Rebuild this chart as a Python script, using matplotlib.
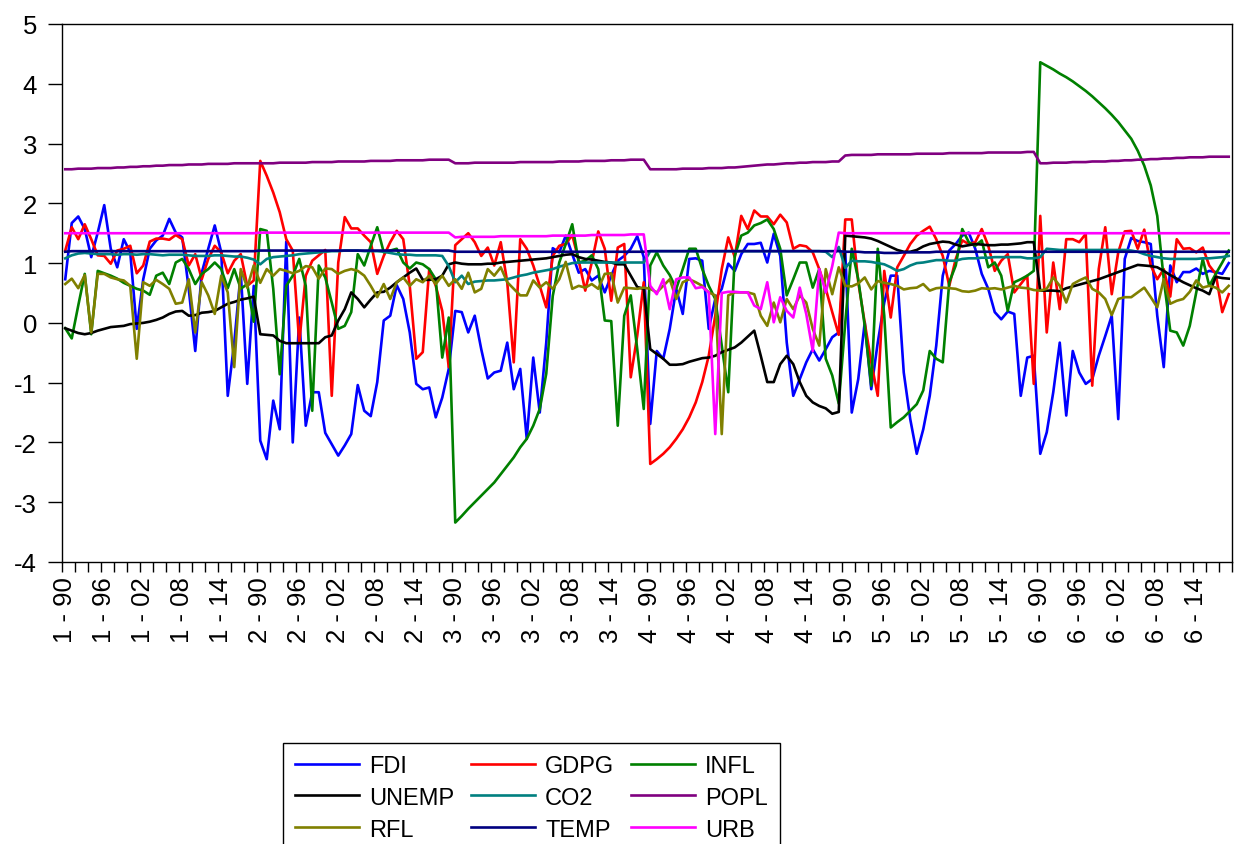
import numpy as np
import matplotlib.pyplot as plt

plt.rcParams['font.family'] = ['Liberation Sans', 'DejaVu Sans']
plt.rcParams['axes.unicode_minus'] = False

# panel data: 6 cross sections, 1990-2019
panels = ['1', '2', '3', '4', '5', '6']
years = ['90', '96', '02', '08', '14']

fdi = [0.73, 1.67, 1.78, 1.57, 1.10, 1.51, 1.97, 1.24, 0.93, 1.40, 1.18, -0.10, 0.73, 1.24, 1.38, 1.46, 1.74, 1.51, 1.43, 0.57, -0.47, 0.84, 1.24, 1.63, 1.18, -1.22, -0.33, 0.84, -1.02, 0.62,
       -1.97, -2.28, -1.30, -1.78, 1.36, -2.00, 0.09, -1.72, -1.16, -1.16, -1.84, -2.03, -2.22, -2.05, -1.86, -1.04, -1.47, -1.56, -0.99, 0.04, 0.12, 0.63, 0.40, -0.16, -1.02, -1.11, -1.08, -1.58, -1.25, -0.77,
       0.20, 0.18, -0.16, 0.12, -0.44, -0.93, -0.83, -0.80, -0.33, -1.11, -0.77, -1.94, -0.58, -1.50, -0.33, 1.25, 1.18, 1.46, 1.15, 0.84, 0.90, 0.71, 0.79, 0.51, 0.79, 1.04, 1.12, 1.24, 1.45, 1.10,
       -1.69, -0.47, -0.60, -0.10, 0.57, 0.15, 1.07, 1.08, 1.04, -0.10, 0.40, 0.57, 0.99, 0.87, 1.15, 1.32, 1.32, 1.34, 1.01, 1.49, 1.12, -0.33, -1.22, -0.94, -0.66, -0.44, -0.63, -0.44, -0.24, -0.16,
       1.20, -1.50, -0.94, 0.01, -1.11, -0.33, 0.34, 0.79, 0.79, -0.83, -1.61, -2.19, -1.78, -1.22, -0.38, 0.79, 1.21, 1.32, 1.46, 1.51, 1.24, 0.82, 0.57, 0.18, 0.06, 0.19, 0.15, -1.22, -0.58, -0.55,
       -2.19, -1.83, -1.16, -0.33, -1.55, -0.47, -0.83, -1.02, -0.94, -0.55, -0.22, 0.12, -1.61, 1.07, 1.42, 1.37, 1.35, 1.32, 0.12, -0.74, 0.96, 0.68, 0.85, 0.85, 0.91, 0.82, 0.87, 0.85, 0.82, 1.00]

gdpg = [1.21, 1.60, 1.40, 1.65, 1.40, 1.13, 1.12, 0.99, 1.21, 1.24, 1.29, 0.83, 0.96, 1.36, 1.41, 1.41, 1.39, 1.47, 1.40, 0.96, 1.15, 0.73, 1.07, 1.29, 1.18, 0.83, 1.04, 1.15, 0.62, 0.71,
        2.71, 2.46, 2.18, 1.85, 1.40, 1.21, -0.33, 0.79, 1.04, 1.13, 1.22, -1.22, 1.01, 1.77, 1.58, 1.58, 1.46, 1.35, 0.82, 1.12, 1.35, 1.54, 1.40, 0.62, -0.60, -0.49, 0.90, 0.62, 0.20, -0.74,
        1.30, 1.40, 1.50, 1.35, 1.12, 1.26, 0.96, 1.35, 0.68, -0.66, 1.40, 1.24, 0.96, 0.62, 0.26, 1.12, 1.29, 1.32, 1.47, 1.04, 0.54, 1.01, 1.53, 1.24, 0.37, 1.26, 1.32, -0.91, -0.21, 0.68,
        -2.36, -2.28, -2.19, -2.08, -1.94, -1.78, -1.58, -1.33, -0.99, -0.55, 0.12, 0.90, 1.43, 1.10, 1.79, 1.57, 1.88, 1.78, 1.78, 1.65, 1.81, 1.68, 1.24, 1.30, 1.28, 1.18, 0.90, 0.57, 0.18, -0.20,
        1.73, 1.73, 0.68, 0.00, -0.66, -1.22, 0.87, 0.09, 0.93, 1.12, 1.32, 1.46, 1.54, 1.61, 1.40, 1.12, 0.62, 1.07, 1.38, 1.32, 1.35, 1.57, 1.29, 0.87, 1.04, 1.15, 0.51, 0.65, 0.79, -1.02,
        1.79, -0.16, 1.01, 0.23, 1.40, 1.40, 1.35, 1.49, -1.05, 0.90, 1.60, 0.48, 1.18, 1.53, 1.54, 1.24, 1.56, 0.96, 0.73, 0.90, 0.44, 1.40, 1.24, 1.25, 1.18, 1.26, 0.96, 0.82, 0.18, 0.48]

infl = [-0.09, -0.26, 0.29, 0.82, -0.19, 0.87, 0.83, 0.79, 0.74, 0.67, 0.62, 0.57, 0.54, 0.47, 0.79, 0.84, 0.65, 1.01, 1.07, 0.90, 0.65, 0.82, 0.90, 1.01, 0.90, 0.58, 0.90, 0.57, 0.65, 0.02,
        1.57, 1.54, 0.57, -0.86, 0.62, 0.79, 1.07, 0.62, -1.47, 0.96, 0.76, 0.34, -0.10, -0.05, 0.18, 1.15, 0.96, 1.29, 1.60, 1.18, 1.21, 1.24, 1.01, 0.91, 1.01, 0.98, 0.90, 0.73, -0.58, 0.09,
        -3.34, -3.23, -3.11, -3.00, -2.89, -2.78, -2.67, -2.53, -2.39, -2.25, -2.08, -1.94, -1.72, -1.44, -0.85, 0.45, 1.01, 1.32, 1.65, 1.01, 1.04, 1.13, 0.90, 0.04, 0.03, -1.72, 0.12, 0.46, -0.44, -1.44,
        0.96, 1.18, 0.96, 0.80, 0.57, 0.90, 1.24, 1.24, 0.90, 0.62, 0.40, -0.38, -1.16, 1.12, 1.46, 1.51, 1.63, 1.67, 1.73, 1.57, 1.24, 0.46, 0.73, 1.01, 1.01, 0.59, 0.90, -0.60, -0.88, -1.35,
        0.00, 1.24, 0.73, -0.05, -1.05, 1.24, 0.12, -1.75, -1.66, -1.58, -1.47, -1.36, -1.13, -0.47, -0.60, -0.66, 0.68, 0.96, 1.57, 1.35, 1.29, 1.38, 0.93, 1.01, 0.79, 0.20, 0.68, 0.73, 0.79, 0.87,
        4.36, 4.30, 4.24, 4.17, 4.11, 4.04, 3.96, 3.88, 3.79, 3.69, 3.59, 3.48, 3.36, 3.22, 3.08, 2.88, 2.63, 2.30, 1.79, 0.73, -0.13, -0.16, -0.38, -0.05, 0.51, 1.07, 0.62, 0.82, 1.01, 1.21]

unemp = [-0.09, -0.13, -0.17, -0.19, -0.17, -0.13, -0.10, -0.07, -0.06, -0.05, -0.02, -0.01, 0.00, 0.02, 0.05, 0.09, 0.15, 0.19, 0.20, 0.12, 0.13, 0.17, 0.18, 0.20, 0.26, 0.32, 0.35, 0.39, 0.41, 0.44,
         -0.19, -0.20, -0.21, -0.30, -0.34, -0.34, -0.34, -0.34, -0.34, -0.34, -0.24, -0.21, 0.04, 0.23, 0.51, 0.40, 0.26, 0.39, 0.51, 0.52, 0.59, 0.68, 0.76, 0.84, 0.91, 0.72, 0.72, 0.73, 0.79, 0.98,
         1.01, 0.99, 0.98, 0.98, 0.98, 0.99, 0.99, 1.01, 1.02, 1.03, 1.04, 1.05, 1.06, 1.07, 1.08, 1.10, 1.12, 1.14, 1.15, 1.10, 1.07, 1.06, 1.04, 1.02, 1.01, 0.98, 0.98, 0.79, 0.60, 0.57,
         -0.44, -0.52, -0.60, -0.70, -0.70, -0.69, -0.65, -0.62, -0.59, -0.58, -0.55, -0.49, -0.45, -0.41, -0.33, -0.23, -0.13, -0.55, -0.99, -0.99, -0.69, -0.55, -0.69, -0.99, -1.22, -1.33, -1.39, -1.43, -1.52, -1.49,
         1.46, 1.45, 1.44, 1.43, 1.41, 1.37, 1.32, 1.27, 1.22, 1.19, 1.19, 1.22, 1.28, 1.32, 1.34, 1.36, 1.35, 1.31, 1.28, 1.30, 1.32, 1.31, 1.30, 1.30, 1.31, 1.31, 1.32, 1.33, 1.35, 1.35,
         0.54, 0.54, 0.54, 0.53, 0.58, 0.61, 0.64, 0.67, 0.70, 0.73, 0.77, 0.81, 0.85, 0.89, 0.93, 0.97, 0.96, 0.95, 0.93, 0.87, 0.80, 0.74, 0.68, 0.63, 0.58, 0.54, 0.48, 0.77, 0.75, 0.74]

co2 = [1.08, 1.13, 1.16, 1.17, 1.16, 1.15, 1.15, 1.15, 1.14, 1.15, 1.15, 1.14, 1.15, 1.15, 1.14, 1.13, 1.14, 1.14, 1.14, 1.13, 1.12, 1.12, 1.12, 1.13, 1.13, 1.12, 1.11, 1.11, 1.09, 1.06,
       0.98, 1.07, 1.10, 1.11, 1.12, 1.13, 1.15, 1.16, 1.17, 1.18, 1.19, 1.20, 1.20, 1.21, 1.21, 1.21, 1.20, 1.20, 1.20, 1.19, 1.17, 1.15, 1.14, 1.14, 1.13, 1.13, 1.13, 1.13, 1.12, 0.95,
       0.68, 0.79, 0.65, 0.69, 0.70, 0.71, 0.71, 0.72, 0.73, 0.76, 0.79, 0.81, 0.84, 0.86, 0.88, 0.90, 0.94, 0.97, 1.00, 1.01, 1.01, 1.01, 1.01, 1.01, 1.01, 1.01, 1.01, 1.01, 1.01, 1.01,
       1.20, 1.20, 1.20, 1.20, 1.20, 1.20, 1.20, 1.20, 1.20, 1.20, 1.20, 1.20, 1.20, 1.20, 1.20, 1.20, 1.20, 1.20, 1.20, 1.20, 1.20, 1.20, 1.20, 1.20, 1.20, 1.20, 1.20, 1.19, 1.10, 1.27,
       0.92, 1.04, 1.03, 1.03, 1.02, 1.00, 0.98, 0.93, 0.87, 0.90, 0.96, 1.00, 1.01, 1.03, 1.05, 1.05, 1.04, 1.04, 1.07, 1.08, 1.08, 1.09, 1.09, 1.10, 1.10, 1.10, 1.10, 1.10, 1.08, 1.08,
       1.10, 1.24, 1.23, 1.22, 1.22, 1.22, 1.22, 1.22, 1.22, 1.22, 1.22, 1.22, 1.22, 1.22, 1.21, 1.19, 1.15, 1.12, 1.10, 1.08, 1.07, 1.07, 1.07, 1.07, 1.07, 1.08, 1.08, 1.09, 1.10, 1.12]

popl = [2.57, 2.57, 2.58, 2.58, 2.58, 2.59, 2.59, 2.59, 2.60, 2.60, 2.61, 2.61, 2.62, 2.62, 2.63, 2.63, 2.64, 2.64, 2.64, 2.65, 2.65, 2.65, 2.66, 2.66, 2.66, 2.66, 2.67, 2.67, 2.67, 2.67,
        2.67, 2.67, 2.67, 2.68, 2.68, 2.68, 2.68, 2.68, 2.69, 2.69, 2.69, 2.69, 2.70, 2.70, 2.70, 2.70, 2.70, 2.71, 2.71, 2.71, 2.71, 2.72, 2.72, 2.72, 2.72, 2.72, 2.73, 2.73, 2.73, 2.73,
        2.67, 2.67, 2.67, 2.68, 2.68, 2.68, 2.68, 2.68, 2.68, 2.68, 2.69, 2.69, 2.69, 2.69, 2.69, 2.69, 2.70, 2.70, 2.70, 2.70, 2.71, 2.71, 2.71, 2.71, 2.72, 2.72, 2.72, 2.73, 2.73, 2.73,
        2.57, 2.57, 2.57, 2.57, 2.57, 2.58, 2.58, 2.58, 2.58, 2.59, 2.59, 2.59, 2.60, 2.60, 2.61, 2.62, 2.63, 2.64, 2.65, 2.65, 2.66, 2.67, 2.67, 2.68, 2.68, 2.69, 2.69, 2.69, 2.70, 2.70,
        2.80, 2.81, 2.81, 2.81, 2.81, 2.82, 2.82, 2.82, 2.82, 2.82, 2.82, 2.83, 2.83, 2.83, 2.83, 2.83, 2.84, 2.84, 2.84, 2.84, 2.84, 2.84, 2.85, 2.85, 2.85, 2.85, 2.85, 2.85, 2.86, 2.86,
        2.67, 2.67, 2.68, 2.68, 2.68, 2.69, 2.69, 2.69, 2.70, 2.70, 2.70, 2.71, 2.71, 2.72, 2.72, 2.73, 2.73, 2.74, 2.74, 2.75, 2.75, 2.76, 2.76, 2.77, 2.77, 2.77, 2.78, 2.78, 2.78, 2.78]

rfl = [0.65, 0.74, 0.58, 0.80, -0.16, 0.82, 0.82, 0.76, 0.73, 0.71, 0.62, -0.60, 0.68, 0.62, 0.72, 0.65, 0.57, 0.32, 0.34, 0.73, -0.16, 0.68, 0.46, 0.15, 0.79, 0.51, -0.74, 0.90, 0.59, 0.96,
       0.67, 0.90, 0.79, 0.90, 0.87, 0.83, 0.87, 0.95, 0.93, 0.74, 0.91, 0.90, 0.82, 0.87, 0.90, 0.87, 0.79, 0.62, 0.43, 0.65, 0.40, 0.68, 0.76, 0.62, 0.73, 0.68, 0.79, 0.65, 0.79, 0.62,
       0.73, 0.57, 0.84, 0.51, 0.57, 0.90, 0.79, 0.93, 0.68, 0.57, 0.46, 0.46, 0.71, 0.59, 0.68, 0.57, 0.73, 1.02, 0.57, 0.62, 0.59, 0.65, 0.57, 0.82, 0.83, 0.34, 0.59, 0.58, 0.57, 0.59,
       0.57, 0.51, 0.62, 0.73, 0.40, 0.68, 0.73, 0.68, 0.62, 0.51, 0.46, -1.86, 0.46, 0.51, 0.51, 0.51, 0.48, 0.12, -0.05, 0.34, 0.01, 0.40, 0.23, 0.46, 0.34, -0.10, -0.38, 0.90, 0.48, 0.93,
       0.62, 0.61, 0.66, 0.76, 0.56, 0.70, 0.67, 0.65, 0.62, 0.56, 0.58, 0.59, 0.65, 0.54, 0.58, 0.59, 0.58, 0.57, 0.53, 0.52, 0.54, 0.58, 0.57, 0.58, 0.56, 0.59, 0.62, 0.59, 0.58, 0.55,
       0.54, 0.57, 0.76, 0.62, 0.34, 0.65, 0.71, 0.76, 0.57, 0.51, 0.40, 0.13, 0.40, 0.43, 0.43, 0.51, 0.59, 0.43, 0.26, 0.73, 0.32, 0.37, 0.40, 0.52, 0.71, 0.59, 0.62, 0.59, 0.51, 0.62]

temp = [1.19, 1.20, 1.20, 1.20, 1.20, 1.20, 1.20, 1.20, 1.20, 1.20, 1.20, 1.20, 1.20, 1.20, 1.20, 1.20, 1.20, 1.20, 1.20, 1.20, 1.20, 1.20, 1.20, 1.20, 1.20, 1.20, 1.20, 1.20, 1.20, 1.20,
        1.21, 1.21, 1.21, 1.21, 1.21, 1.21, 1.21, 1.21, 1.21, 1.21, 1.21, 1.21, 1.21, 1.21, 1.21, 1.21, 1.21, 1.21, 1.21, 1.21, 1.21, 1.21, 1.21, 1.21, 1.21, 1.21, 1.21, 1.21, 1.21, 1.21,
        1.19, 1.19, 1.19, 1.19, 1.19, 1.19, 1.19, 1.19, 1.19, 1.19, 1.19, 1.19, 1.19, 1.19, 1.19, 1.19, 1.19, 1.19, 1.19, 1.19, 1.19, 1.19, 1.19, 1.19, 1.19, 1.19, 1.19, 1.19, 1.19, 1.19,
        1.20, 1.20, 1.20, 1.20, 1.20, 1.20, 1.20, 1.20, 1.20, 1.20, 1.20, 1.20, 1.20, 1.20, 1.20, 1.20, 1.20, 1.20, 1.20, 1.20, 1.20, 1.20, 1.20, 1.20, 1.20, 1.20, 1.20, 1.20, 1.20, 1.20,
        1.19, 1.19, 1.19, 1.18, 1.18, 1.18, 1.17, 1.17, 1.17, 1.18, 1.18, 1.18, 1.18, 1.18, 1.19, 1.19, 1.19, 1.19, 1.19, 1.19, 1.19, 1.19, 1.19, 1.19, 1.19, 1.19, 1.19, 1.19, 1.19, 1.19,
        1.19, 1.19, 1.19, 1.19, 1.19, 1.19, 1.19, 1.19, 1.19, 1.19, 1.19, 1.19, 1.19, 1.19, 1.19, 1.19, 1.19, 1.19, 1.19, 1.19, 1.19, 1.19, 1.19, 1.19, 1.19, 1.19, 1.19, 1.19, 1.19, 1.19]

urb = [1.50, 1.50, 1.50, 1.50, 1.50, 1.50, 1.50, 1.50, 1.50, 1.50, 1.50, 1.50, 1.50, 1.50, 1.50, 1.50, 1.50, 1.50, 1.50, 1.50, 1.50, 1.50, 1.50, 1.50, 1.50, 1.50, 1.50, 1.50, 1.50, 1.50,
       1.51, 1.51, 1.51, 1.51, 1.51, 1.51, 1.51, 1.51, 1.51, 1.51, 1.51, 1.51, 1.51, 1.51, 1.51, 1.51, 1.51, 1.51, 1.51, 1.51, 1.51, 1.51, 1.51, 1.51, 1.51, 1.51, 1.51, 1.51, 1.51, 1.51,
       1.43, 1.44, 1.44, 1.44, 1.44, 1.44, 1.44, 1.45, 1.45, 1.45, 1.45, 1.45, 1.45, 1.45, 1.45, 1.46, 1.46, 1.46, 1.46, 1.46, 1.46, 1.47, 1.47, 1.47, 1.47, 1.47, 1.47, 1.48, 1.48, 1.48,
       0.62, 0.48, 0.73, 0.23, 0.73, 0.76, 0.76, 0.58, 0.60, 0.51, -1.86, 0.50, 0.52, 0.52, 0.51, 0.51, 0.29, 0.23, 0.68, 0.01, 0.43, 0.20, 0.09, 0.59, 0.15, -0.47, 0.90, 0.51, 0.95, 1.51,
       1.50, 1.50, 1.50, 1.50, 1.50, 1.50, 1.50, 1.50, 1.50, 1.50, 1.50, 1.50, 1.50, 1.50, 1.50, 1.50, 1.50, 1.50, 1.50, 1.50, 1.50, 1.50, 1.50, 1.50, 1.50, 1.50, 1.50, 1.50, 1.50, 1.50,
       1.50, 1.50, 1.50, 1.50, 1.50, 1.50, 1.50, 1.50, 1.50, 1.50, 1.50, 1.50, 1.50, 1.50, 1.50, 1.50, 1.50, 1.50, 1.50, 1.50, 1.50, 1.50, 1.50, 1.50, 1.50, 1.50, 1.50, 1.50, 1.50, 1.50]

names = ['FDI', 'GDPG', 'INFL', 'UNEMP', 'CO2', 'POPL', 'RFL', 'TEMP', 'URB']
series = [fdi, gdpg, infl, unemp, co2, popl, rfl, temp, urb]
colors = ['#0000ff', '#ff0000', '#008000', '#000000', '#008080', '#800080', '#808000', '#000080', '#ff00ff']

fig = plt.figure(figsize=(12.38, 8.45), dpi=100)
ax = fig.add_axes([62/1238, 1 - 563/845, (1232 - 62)/1238, (563 - 25)/845])

x = np.arange(len(fdi))
lines = []
for name, s, c in zip(names, series, colors):
    ln, = ax.plot(x, s, color=c, lw=1.9, label=name)
    lines.append(ln)

ax.set_xlim(-0.5, len(fdi) - 0.5)
ax.set_ylim(-4, 5)

# x labels every 6 obs, small ticks every 2 obs between obs
labels = [p + ' - ' + y for p in panels for y in years]
ax.set_xticks(np.arange(0, len(fdi), 6))
ax.set_xticklabels(labels, rotation=90, fontsize=18.5)
ax.tick_params(axis='x', which='major', length=0, pad=10)
ax.set_xticks(np.arange(-0.5, len(fdi), 2), minor=True)
ax.tick_params(axis='x', which='minor', length=7, width=1, direction='out')

ax.set_yticks(np.arange(-4, 6, 1))
ax.tick_params(axis='y', length=10, width=1, pad=8, labelsize=18.5)

for sp in ax.spines.values():
    sp.set_linewidth(1.0)

# legend reads row by row
order = [0, 3, 6, 1, 4, 7, 2, 5, 8]
leg = fig.legend([lines[i] for i in order], [names[i] for i in order],
                 ncol=3, loc='upper left', bbox_to_anchor=(283/1238, 1 - 744/845),
                 borderaxespad=0, fontsize=17, frameon=True, fancybox=False,
                 edgecolor='black', framealpha=1, handlelength=2.7, handletextpad=0.45,
                 columnspacing=0.7, labelspacing=0.42, borderpad=0.5)
leg.get_frame().set_linewidth(1.0)

fig.savefig('out.png', dpi=100)
